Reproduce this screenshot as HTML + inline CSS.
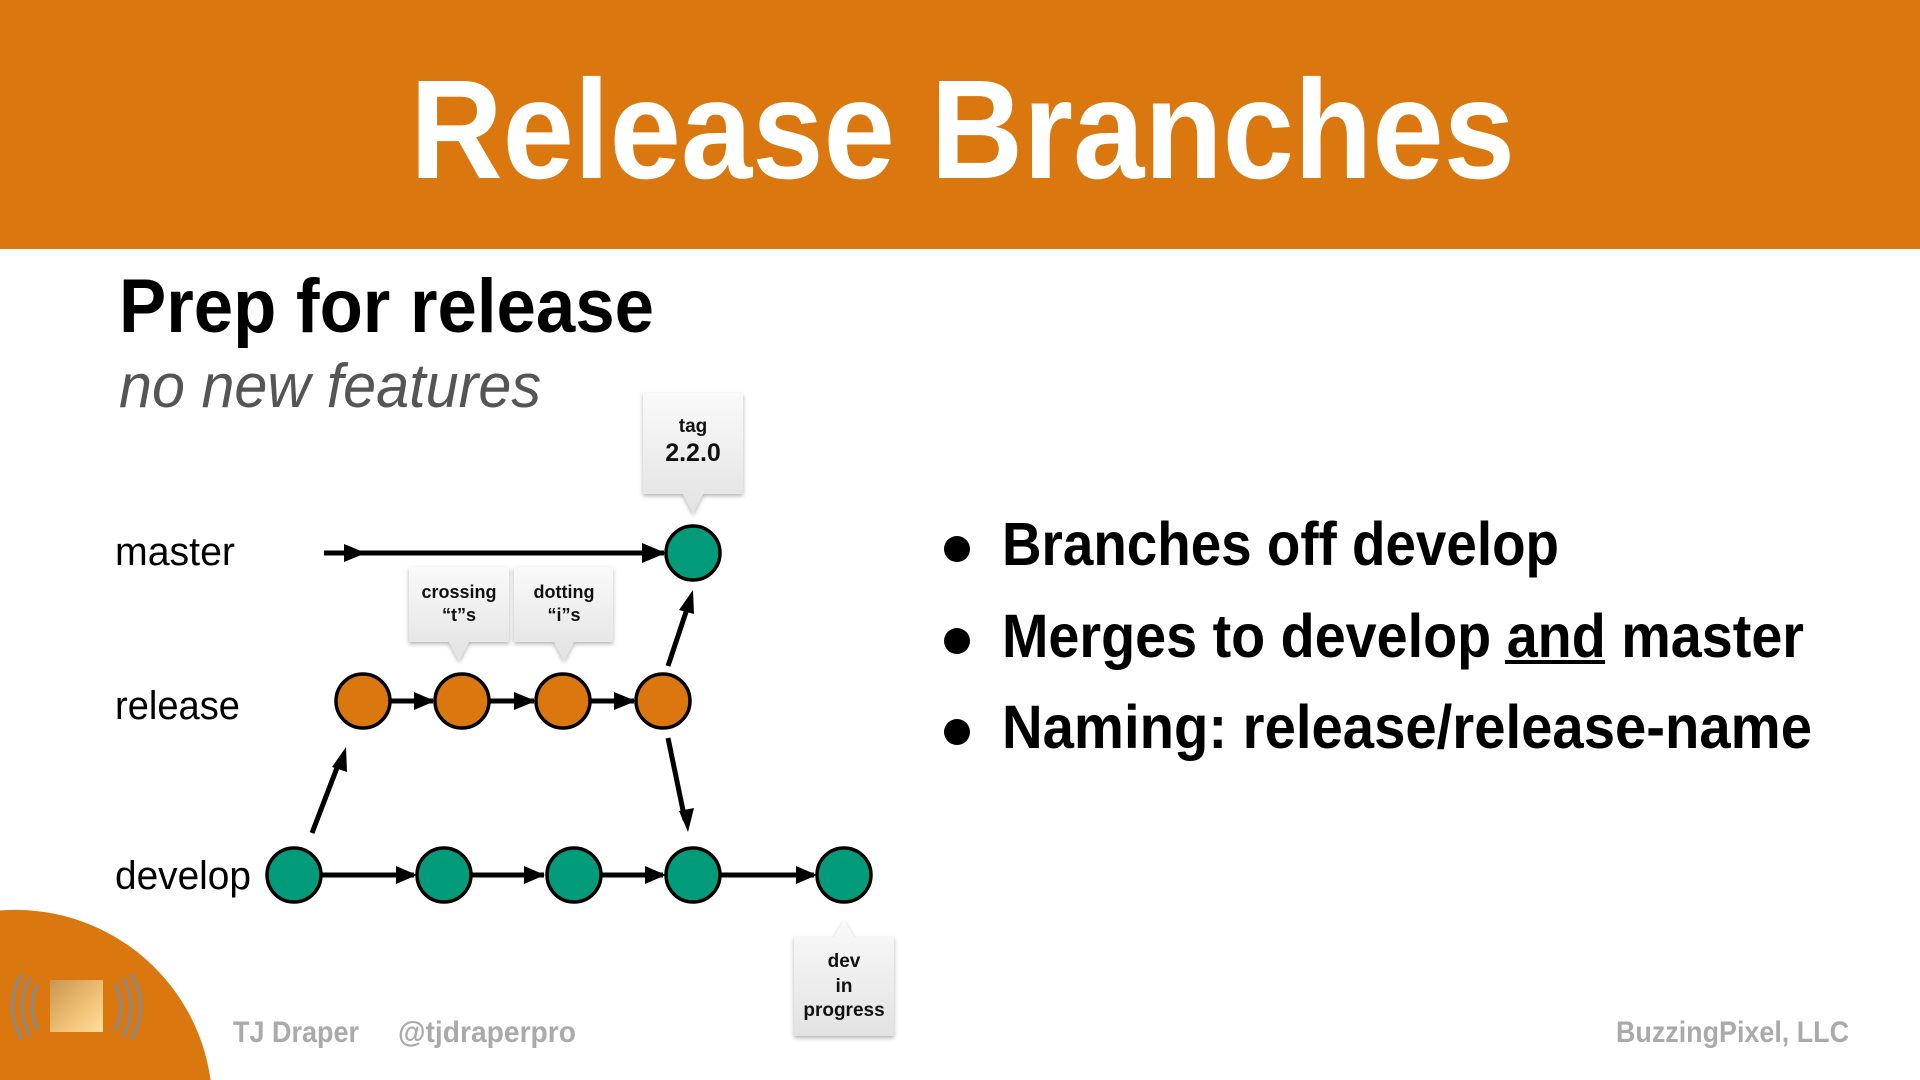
<!DOCTYPE html>
<html><head><meta charset="utf-8"><style>
html,body{margin:0;padding:0;background:#fff;width:1920px;height:1080px;overflow:hidden;}
svg{display:block;}
text{font-family:"Liberation Sans",sans-serif;}
</style></head><body>
<svg width="1920" height="1080" viewBox="0 0 1920 1080" xmlns="http://www.w3.org/2000/svg">
<defs>
<linearGradient id="box" x1="0" y1="0" x2="0" y2="1"><stop offset="0" stop-color="#fafafa"/><stop offset="1" stop-color="#e2e2e2"/></linearGradient>
<linearGradient id="gold" x1="0" y1="0" x2="1" y2="1"><stop offset="0" stop-color="#c89650"/><stop offset="0.6" stop-color="#f2c277"/><stop offset="1" stop-color="#ffe09a"/></linearGradient>
<filter id="sh" x="-20%" y="-20%" width="140%" height="140%"><feDropShadow dx="0" dy="2" stdDeviation="2" flood-color="#000" flood-opacity="0.3"/></filter>
</defs>
<rect x="0" y="0" width="1920" height="249" fill="#DA770F"/>
<text x="410" y="178" font-size="141" font-weight="bold" fill="#fff" textLength="1105" lengthAdjust="spacingAndGlyphs">Release Branches</text>
<text x="119" y="332" font-size="76" font-weight="bold" fill="#000" textLength="535" lengthAdjust="spacingAndGlyphs">Prep for release</text>
<text x="119" y="407" font-size="62" font-style="italic" fill="#555" textLength="422" lengthAdjust="spacingAndGlyphs">no new features</text>

<text x="115" y="565" font-size="40" fill="#000" textLength="120" lengthAdjust="spacingAndGlyphs">master</text>
<text x="115" y="719" font-size="40" fill="#000" textLength="125" lengthAdjust="spacingAndGlyphs">release</text>
<text x="115" y="889" font-size="40" fill="#000" textLength="136" lengthAdjust="spacingAndGlyphs">develop</text>

<g stroke="#000" stroke-width="5" fill="none">
<line x1="324" y1="553" x2="664" y2="553"/>
<line x1="322" y1="875" x2="414" y2="875"/>
<line x1="472" y1="875" x2="544" y2="875"/>
<line x1="602" y1="875" x2="663" y2="875"/>
<line x1="721" y1="875" x2="814" y2="875"/>
<line x1="390" y1="701" x2="433" y2="701"/>
<line x1="490" y1="701" x2="534" y2="701"/>
<line x1="591" y1="701" x2="634" y2="701"/>
<line x1="312" y1="833" x2="340" y2="760"/>
<line x1="668" y1="666" x2="689" y2="603"/>
<line x1="668" y1="738" x2="685" y2="820"/>
</g>
<g fill="#000">
<path d="M344,544 L366,553 L344,562 Z"/>
<path d="M642,543 L666,553 L642,563 Z"/>
<path d="M396,866 L417,875 L396,884 Z"/>
<path d="M524,866 L545,875 L524,884 Z"/>
<path d="M645,866 L666,875 L645,884 Z"/>
<path d="M796,866 L817,875 L796,884 Z"/>
<path d="M414,692 L435,701 L414,710 Z"/>
<path d="M514,692 L536,701 L514,710 Z"/>
<path d="M614,692 L636,701 L614,710 Z"/>
<path d="M346,747 L347,772 L332,767 Z"/>
<path d="M693,590 L694,614 L679,610 Z"/>
<path d="M688,832 L694,808 L679,811 Z"/>
</g>

<g stroke="#000" stroke-width="3.5">
<circle cx="693" cy="553" r="27" fill="#039C7A"/>
<circle cx="363" cy="701" r="27" fill="#DA770F"/>
<circle cx="462" cy="701" r="27" fill="#DA770F"/>
<circle cx="563" cy="701" r="27" fill="#DA770F"/>
<circle cx="663" cy="701" r="27" fill="#DA770F"/>
<circle cx="294" cy="875" r="27" fill="#039C7A"/>
<circle cx="444" cy="875" r="27" fill="#039C7A"/>
<circle cx="574" cy="875" r="27" fill="#039C7A"/>
<circle cx="693" cy="875" r="27" fill="#039C7A"/>
<circle cx="844" cy="875" r="27" fill="#039C7A"/>
</g>

<g fill="url(#box)" filter="url(#sh)">
<path d="M643,393 H743 V494 H703 L693,514 L683,494 H643 Z"/>
<path d="M409,567 H509 V642 H469 L459,661 L449,642 H409 Z"/>
<path d="M514,567 H613 V642 H574 L564,661 L554,642 H514 Z"/>
<path d="M794,937 H834 L844,920 L854,937 H894 V1036 H794 Z"/>
</g>
<g fill="#111" text-anchor="middle" font-weight="bold">
<text x="693" y="432" font-size="19">tag</text>
<text x="693" y="461" font-size="25">2.2.0</text>
<text x="459" y="598" font-size="18">crossing</text>
<text x="459" y="621" font-size="18">“t”s</text>
<text x="564" y="598" font-size="18">dotting</text>
<text x="564" y="621" font-size="18">“i”s</text>
<text x="844" y="967" font-size="19">dev</text>
<text x="844" y="992" font-size="19">in</text>
<text x="844" y="1016" font-size="19">progress</text>
</g>

<g fill="#000">
<circle cx="957" cy="549" r="13"/>
<circle cx="957" cy="641" r="13"/>
<circle cx="957" cy="732" r="13"/>
</g>
<g font-size="61" font-weight="bold" fill="#000">
<text x="1002" y="565" textLength="557" lengthAdjust="spacingAndGlyphs">Branches off develop</text>
<text x="1002" y="657" textLength="802" lengthAdjust="spacingAndGlyphs">Merges to develop and master</text>
<text x="1002" y="748" textLength="810" lengthAdjust="spacingAndGlyphs">Naming: release/release-name</text>
</g>
<rect x="1505" y="660" width="100" height="4" fill="#000"/>

<path d="M0,910.5 A197,197 0 0 1 210.6,1080 L0,1080 Z" fill="#DA770F"/>
<rect x="50" y="980" width="53" height="52" fill="url(#gold)"/>
<g stroke="#8a8a8a" stroke-width="3" fill="none">
<path d="M38,984 Q26,1006 38,1030"/>
<path d="M30,978 Q14,1006 30,1036"/>
<path d="M22,974 Q3,1006 22,1040"/>
<path d="M115,984 Q127,1006 115,1030"/>
<path d="M123,978 Q139,1006 123,1036"/>
<path d="M131,974 Q150,1006 131,1040"/>
</g>
<g font-size="30" font-weight="bold" fill="#aaa">
<text x="233" y="1042" textLength="126" lengthAdjust="spacingAndGlyphs">TJ Draper</text>
<text x="398" y="1042" textLength="178" lengthAdjust="spacingAndGlyphs">@tjdraperpro</text>
<text x="1616" y="1042" textLength="233" lengthAdjust="spacingAndGlyphs">BuzzingPixel, LLC</text>
</g>
</svg>
</body></html>
